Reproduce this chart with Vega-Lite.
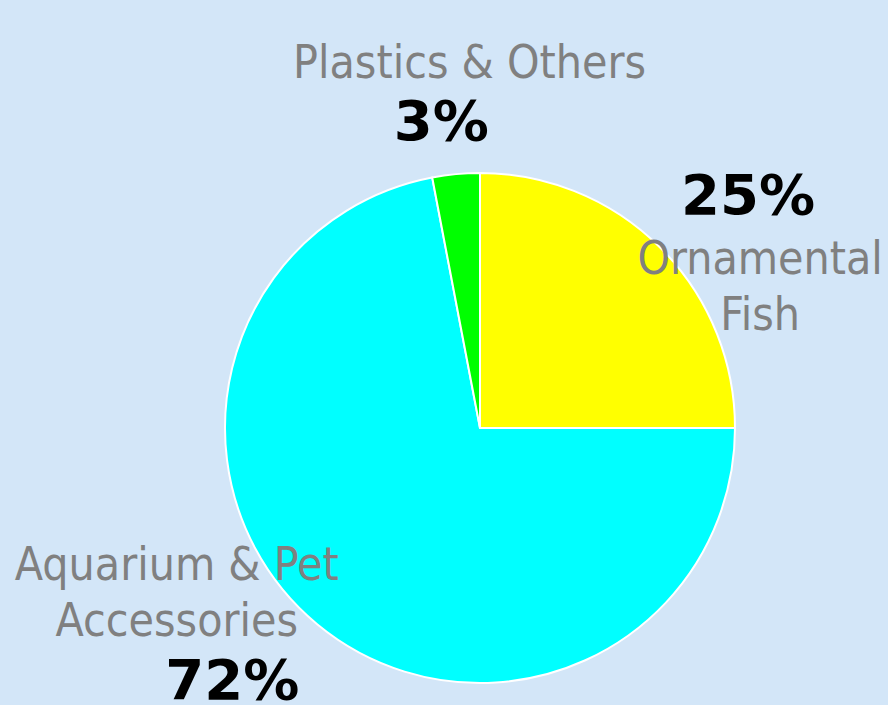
{
  "$schema": "https://vega.github.io/schema/vega-lite/v6.json",
  "autosize": "none",
  "width": 510,
  "height": 510,
  "padding": {"left": 225, "top": 173, "right": 153, "bottom": 22},
  "background": "#d3e6f8",
  "config": {"view": {"stroke": null}},
  "data": {
    "values": [
      {"name": "Ornamental Fish", "label": "Ornamental\nFish", "pct": 25, "rank": 1},
      {"name": "Aquarium & Pet Accessories", "label": "Aquarium & Pet\nAccessories", "pct": 72, "rank": 2},
      {"name": "Plastics & Others", "label": "Plastics & Others", "pct": 3, "rank": 3}
    ]
  },
  "encoding": {
    "theta": {"field": "pct", "type": "quantitative", "stack": true},
    "order": {"field": "rank", "type": "quantitative"}
  },
  "layer": [
    {
      "mark": {"type": "arc", "radius": 255, "stroke": "white", "strokeWidth": 2},
      "encoding": {
        "color": {
          "field": "name", "type": "nominal",
          "scale": {"domain": ["Ornamental Fish", "Aquarium & Pet Accessories", "Plastics & Others"], "range": ["#ffff00", "#00ffff", "#00ff00"]},
          "legend": null
        }
      }
    },
    {
      "mark": {"type": "text", "radius": 300, "dx": 68, "dy": 44, "font": "DejaVu Sans Condensed", "fontSize": 46, "color": "#808080", "lineBreak": "\n", "lineHeight": 56, "baseline": "middle", "align": "center"},
      "encoding": {"text": {"condition": {"test": "datum.rank == 1", "field": "label"}, "value": ""}}
    },
    {
      "mark": {"type": "text", "radius": 300, "dx": 56, "dy": -19, "font": "DejaVu Sans", "fontWeight": "bold", "fontSize": 56, "color": "black", "baseline": "middle", "align": "center"},
      "encoding": {"text": {"condition": {"test": "datum.rank == 1", "value": "25%"}, "value": ""}}
    },
    {
      "mark": {"type": "text", "radius": 300, "dx": -112, "dy": -93, "font": "DejaVu Sans Condensed", "fontSize": 46, "color": "#808080", "lineBreak": "\n", "lineHeight": 56, "baseline": "middle", "align": "center"},
      "encoding": {"text": {"condition": {"test": "datum.rank == 2", "field": "label"}, "value": ""}}
    },
    {
      "mark": {"type": "text", "radius": 340, "dx": -31, "dy": -8, "font": "DejaVu Sans", "fontWeight": "bold", "fontSize": 56, "color": "black", "baseline": "middle", "align": "center"},
      "encoding": {"text": {"condition": {"test": "datum.rank == 2", "value": "72%"}, "value": ""}}
    },
    {
      "mark": {"type": "text", "radius": 366, "dx": 24, "dy": 0, "font": "DejaVu Sans Condensed", "fontSize": 46, "color": "#808080", "baseline": "middle", "align": "center"},
      "encoding": {"text": {"condition": {"test": "datum.rank == 3", "field": "label"}, "value": ""}}
    },
    {
      "mark": {"type": "text", "radius": 305, "dx": -10, "dy": -1, "font": "DejaVu Sans", "fontWeight": "bold", "fontSize": 56, "color": "black", "baseline": "middle", "align": "center"},
      "encoding": {"text": {"condition": {"test": "datum.rank == 3", "value": "3%"}, "value": ""}}
    }
  ]
}
